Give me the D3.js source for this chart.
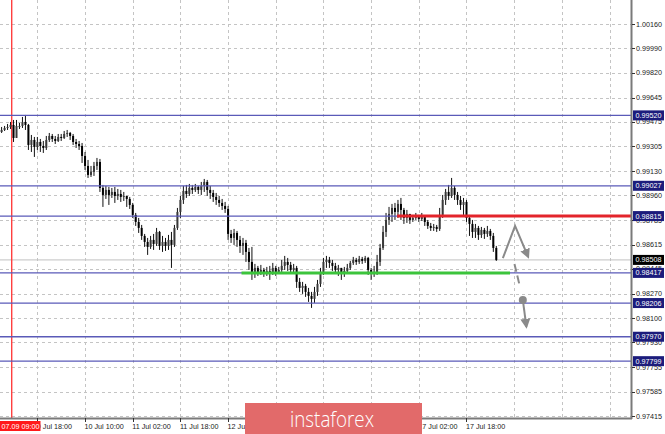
<!DOCTYPE html>
<html><head><meta charset="utf-8">
<script src="https://cdn.jsdelivr.net/npm/d3@7"></script>
<style>body{margin:0;background:#fff}svg{display:block}text{font-family:"Liberation Sans",Arial,sans-serif}</style>
</head><body><svg id="c" width="665" height="434"></svg>
<script>
// ---- data (H1 candles, bar index 0 = 9 Jul 06:00) ----
const yTickValues=[1.00160,0.99990,0.99820,0.99645,0.99475,0.99305,0.99130,0.98960,0.98785,0.98615,0.98445,0.98270,0.98100,0.97930,0.97755,0.97585,0.97415];
const timeTickBars=[12,28,44,60,76,92,108,124,140,156];
const timeTickLabels=["9 Jul 18:00","10 Jul 10:00","11 Jul 02:00","11 Jul 18:00","12 Jul 10:00","","","","17 Jul 02:00","17 Jul 18:00"];
const gridBars=[12,28,44,60,76,92,108,124,140,156,172,188,204];
const levelPrices=[0.99520,0.99027,0.98815,0.98417,0.98206,0.97970,0.97799];
const currentPrice=0.98508;
const markerBar=3, markerLabel="07.09 09:00";
const resistance={price:0.98815,fromBar:132.7};
const support={price:0.98417,fromBar:80.5,toBar:170.6};
const zigzag=[[168.2,0.98520],[172.3,0.98746],[176.7,0.98529]];
const dashSeg=[[172.1,0.98480],[173.7,0.98340]];
const dropArrow=[[174.9,0.98228],[176.1,0.98040]];
const open=[0.99404,0.99418,0.99432,0.99439,0.99453,0.99362,0.99446,0.99446,0.99474,0.99453,0.99313,0.99348,0.99299,0.99334,0.99306,0.99292,0.99348,0.99376,0.99355,0.99341,0.99369,0.99362,0.99390,0.99397,0.99376,0.99334,0.99320,0.99306,0.99236,0.99166,0.99103,0.99124,0.99166,0.99194,0.99012,0.98963,0.98998,0.98963,0.98984,0.98956,0.98970,0.98949,0.98956,0.98935,0.98893,0.98823,0.98774,0.98732,0.98676,0.98634,0.98599,0.98648,0.98620,0.98704,0.98606,0.98634,0.98606,0.98648,0.98613,0.98732,0.98844,0.98928,0.98991,0.98970,0.99012,0.98998,0.99019,0.98998,0.99026,0.99054,0.98998,0.98977,0.98949,0.98928,0.98907,0.98886,0.98865,0.98690,0.98662,0.98697,0.98648,0.98606,0.98627,0.98564,0.98494,0.98424,0.98452,0.98424,0.98438,0.98410,0.98431,0.98417,0.98452,0.98424,0.98438,0.98466,0.98494,0.98473,0.98438,0.98452,0.98354,0.98312,0.98326,0.98284,0.98256,0.98235,0.98284,0.98340,0.98424,0.98494,0.98508,0.98487,0.98466,0.98438,0.98452,0.98417,0.98431,0.98452,0.98487,0.98508,0.98494,0.98515,0.98501,0.98522,0.98438,0.98410,0.98424,0.98494,0.98592,0.98704,0.98788,0.98830,0.98872,0.98844,0.98900,0.98858,0.98802,0.98830,0.98788,0.98802,0.98816,0.98795,0.98809,0.98774,0.98746,0.98732,0.98739,0.98725,0.98823,0.98928,0.98984,0.98956,0.99012,0.98963,0.98928,0.98893,0.98914,0.98802,0.98760,0.98704,0.98732,0.98683,0.98718,0.98690,0.98711,0.98676,0.98592];
const close=[0.99418,0.99432,0.99439,0.99453,0.99362,0.99446,0.99446,0.99474,0.99453,0.99313,0.99348,0.99299,0.99334,0.99306,0.99292,0.99348,0.99376,0.99355,0.99341,0.99369,0.99362,0.99390,0.99397,0.99376,0.99334,0.99320,0.99306,0.99236,0.99166,0.99103,0.99124,0.99166,0.99194,0.99012,0.98963,0.98998,0.98963,0.98984,0.98956,0.98970,0.98949,0.98956,0.98935,0.98893,0.98823,0.98774,0.98732,0.98676,0.98634,0.98599,0.98648,0.98620,0.98704,0.98606,0.98634,0.98606,0.98648,0.98613,0.98732,0.98844,0.98928,0.98991,0.98970,0.99012,0.98998,0.99019,0.98998,0.99026,0.99054,0.98998,0.98977,0.98949,0.98928,0.98907,0.98886,0.98865,0.98690,0.98662,0.98697,0.98648,0.98606,0.98627,0.98564,0.98494,0.98424,0.98452,0.98424,0.98438,0.98410,0.98431,0.98417,0.98452,0.98424,0.98438,0.98466,0.98494,0.98473,0.98438,0.98452,0.98354,0.98312,0.98326,0.98284,0.98256,0.98235,0.98284,0.98340,0.98424,0.98494,0.98508,0.98487,0.98466,0.98438,0.98452,0.98417,0.98431,0.98452,0.98487,0.98508,0.98494,0.98515,0.98501,0.98522,0.98438,0.98410,0.98424,0.98494,0.98592,0.98704,0.98788,0.98830,0.98872,0.98844,0.98900,0.98858,0.98802,0.98830,0.98788,0.98802,0.98816,0.98795,0.98809,0.98774,0.98746,0.98732,0.98739,0.98725,0.98823,0.98928,0.98984,0.98956,0.99012,0.98963,0.98928,0.98893,0.98914,0.98802,0.98760,0.98704,0.98732,0.98683,0.98718,0.98690,0.98711,0.98676,0.98592,0.98508];
const high=[0.99439,0.99446,0.99460,0.99474,0.99488,0.99488,0.99467,0.99509,0.99523,0.99460,0.99383,0.99369,0.99369,0.99355,0.99341,0.99376,0.99397,0.99390,0.99376,0.99390,0.99390,0.99411,0.99418,0.99404,0.99390,0.99355,0.99341,0.99327,0.99264,0.99208,0.99166,0.99194,0.99222,0.99215,0.99033,0.99026,0.99019,0.99012,0.99019,0.99005,0.98998,0.98984,0.98956,0.98949,0.98907,0.98837,0.98802,0.98753,0.98690,0.98662,0.98676,0.98690,0.98732,0.98711,0.98676,0.98662,0.98683,0.98704,0.98753,0.98872,0.98956,0.99026,0.99033,0.99040,0.99033,0.99040,0.99026,0.99054,0.99075,0.99068,0.99026,0.98998,0.98977,0.98956,0.98935,0.98914,0.98886,0.98718,0.98725,0.98711,0.98676,0.98662,0.98648,0.98592,0.98599,0.98480,0.98466,0.98473,0.98452,0.98459,0.98466,0.98487,0.98466,0.98459,0.98508,0.98536,0.98522,0.98494,0.98480,0.98466,0.98382,0.98354,0.98340,0.98312,0.98284,0.98319,0.98368,0.98452,0.98522,0.98536,0.98529,0.98508,0.98487,0.98473,0.98452,0.98459,0.98480,0.98501,0.98529,0.98522,0.98536,0.98529,0.98536,0.98529,0.98452,0.98466,0.98543,0.98620,0.98746,0.98837,0.98879,0.98900,0.98907,0.98928,0.98942,0.98872,0.98858,0.98830,0.98823,0.98837,0.98823,0.98837,0.98816,0.98788,0.98767,0.98760,0.98753,0.98872,0.98963,0.99005,0.99033,0.99082,0.99026,0.98984,0.98956,0.98942,0.98928,0.98823,0.98788,0.98760,0.98746,0.98739,0.98732,0.98746,0.98725,0.98697,0.98606];
const low=[0.99397,0.99411,0.99418,0.99425,0.99334,0.99362,0.99425,0.99432,0.99418,0.99278,0.99264,0.99229,0.99278,0.99264,0.99257,0.99278,0.99334,0.99334,0.99320,0.99334,0.99341,0.99355,0.99369,0.99348,0.99313,0.99292,0.99278,0.99187,0.99138,0.99082,0.99089,0.99096,0.99138,0.98984,0.98879,0.98935,0.98893,0.98942,0.98907,0.98928,0.98914,0.98921,0.98879,0.98865,0.98802,0.98746,0.98697,0.98648,0.98599,0.98543,0.98585,0.98578,0.98606,0.98578,0.98564,0.98571,0.98578,0.98452,0.98599,0.98718,0.98802,0.98900,0.98942,0.98956,0.98970,0.98984,0.98970,0.98963,0.98984,0.98956,0.98935,0.98914,0.98893,0.98879,0.98858,0.98837,0.98648,0.98627,0.98613,0.98599,0.98557,0.98543,0.98494,0.98438,0.98368,0.98382,0.98396,0.98403,0.98389,0.98396,0.98368,0.98403,0.98396,0.98410,0.98424,0.98438,0.98431,0.98410,0.98417,0.98312,0.98284,0.98270,0.98249,0.98214,0.98172,0.98207,0.98256,0.98319,0.98403,0.98452,0.98452,0.98431,0.98410,0.98396,0.98368,0.98389,0.98417,0.98438,0.98473,0.98473,0.98480,0.98480,0.98487,0.98403,0.98368,0.98389,0.98403,0.98466,0.98578,0.98669,0.98753,0.98774,0.98788,0.98802,0.98788,0.98760,0.98767,0.98760,0.98774,0.98788,0.98774,0.98781,0.98746,0.98725,0.98711,0.98711,0.98704,0.98711,0.98802,0.98893,0.98928,0.98942,0.98928,0.98893,0.98858,0.98823,0.98774,0.98676,0.98662,0.98662,0.98648,0.98662,0.98655,0.98669,0.98648,0.98564,0.98501];

// ---- layout ----
const plotR=631,plotB=418;
const svg=d3.select("#c");
const x=d3.scaleLinear().domain([0,166]).range([1.6,496.3]);
const y=d3.scaleLinear().domain([0.97415,1.00160]).range([416,24]);
const fmt=d3.format(".5f");
const candles=close.map((c,i)=>({i,o:open[i],c,h:Math.max(high[i],open[i],c),l:Math.min(low[i],open[i],c)}));

// grid
const g=svg.append("g");
g.selectAll(".hg").data(yTickValues).join("line")
 .attr("x1",0).attr("x2",plotR).attr("y1",d=>Math.round(y(d))+0.5).attr("y2",d=>Math.round(y(d))+0.5)
 .attr("stroke","#c4c4c4").attr("stroke-dasharray","3,3");
g.selectAll(".vg").data(gridBars).join("line")
 .attr("y1",0).attr("y2",plotB).attr("x1",d=>Math.round(x(d))+0.5).attr("x2",d=>Math.round(x(d))+0.5)
 .attr("stroke","#c4c4c4").attr("stroke-dasharray","3,3");

// current price line
svg.append("line").attr("x1",0).attr("x2",plotR).attr("y1",y(currentPrice)).attr("y2",y(currentPrice))
 .attr("stroke","#c0c0c0").attr("stroke-width",1);

// vertical marker
svg.append("rect").attr("x",Math.round(x(markerBar))).attr("width",1.4)
 .attr("y",0).attr("height",plotB).attr("fill","#ff4040");

// candles
const cg=svg.append("g");
cg.selectAll("line").data(candles).join("line")
 .attr("x1",d=>x(d.i)).attr("x2",d=>x(d.i)).attr("y1",d=>y(d.h)).attr("y2",d=>y(d.l))
 .attr("stroke","#111").attr("stroke-width",1);
cg.selectAll("rect").data(candles).join("rect")
 .attr("x",d=>x(d.i)-1).attr("width",2)
 .attr("y",d=>y(Math.max(d.o,d.c)))
 .attr("height",d=>Math.max(1,Math.abs(y(d.o)-y(d.c))))
 .attr("fill",d=>d.c>=d.o?"#3a3a3a":"#000");

// level lines
svg.selectAll(".lv").data(levelPrices).join("line")
 .attr("x1",0).attr("x2",plotR).attr("y1",d=>y(d)).attr("y2",d=>y(d))
 .attr("stroke","#5a5ab8").attr("stroke-width",1.3);

// support / resistance
svg.append("line").attr("x1",x(resistance.fromBar)).attr("x2",plotR)
 .attr("y1",y(resistance.price)).attr("y2",y(resistance.price))
 .attr("stroke","#e3242b").attr("stroke-width",3);
svg.append("line").attr("x1",x(support.fromBar)).attr("x2",x(support.toBar))
 .attr("y1",y(support.price)).attr("y2",y(support.price))
 .attr("stroke","#3cc43c").attr("stroke-width",3);

// arrows
const defs=svg.append("defs");
defs.append("marker").attr("id","ah").attr("viewBox","0 0 10 10").attr("refX",8).attr("refY",5)
 .attr("markerWidth",10).attr("markerHeight",10).attr("markerUnits","userSpaceOnUse").attr("orient","auto")
 .append("path").attr("d","M0,0 L10,5 L0,10 z").attr("fill","#8a8a8a");
const ln=d3.line().x(d=>x(d[0])).y(d=>y(d[1]));
svg.append("path").attr("d",ln(zigzag)).attr("fill","none").attr("stroke","#8a8a8a").attr("stroke-width",2).attr("marker-end","url(#ah)");
svg.append("path").attr("d",ln(dashSeg)).attr("fill","none").attr("stroke","#8a8a8a").attr("stroke-width",2).attr("stroke-dasharray","8,4");
svg.append("path").attr("d",ln(dropArrow)).attr("fill","none").attr("stroke","#8a8a8a").attr("stroke-width",2).attr("marker-end","url(#ah)");
svg.append("circle").attr("cx",x(dropArrow[0][0])).attr("cy",y(dropArrow[0][1])).attr("r",4).attr("fill","#8a8a8a");

// axes frame
svg.append("line").attr("x1",plotR+0.5).attr("x2",plotR+0.5).attr("y1",0).attr("y2",plotB+1).attr("stroke","#7a7a7a").attr("stroke-width",2);
svg.append("line").attr("x1",0).attr("x2",plotR+1).attr("y1",plotB+0.5).attr("y2",plotB+0.5).attr("stroke","#7a7a7a").attr("stroke-width",2);

// y axis labels
const ya=svg.append("g");
ya.selectAll("line").data(yTickValues).join("line")
 .attr("x1",plotR+1).attr("x2",plotR+4).attr("y1",d=>Math.round(y(d))+0.5).attr("y2",d=>Math.round(y(d))+0.5).attr("stroke","#333");
ya.selectAll("text").data(yTickValues).join("text")
 .attr("x",plotR+5).attr("y",d=>y(d)).attr("dy","0.35em").attr("font-size","7.2px").attr("fill","#222").text(fmt);

// x axis labels
const xa=svg.append("g");
xa.selectAll("line").data(timeTickBars).join("line")
 .attr("x1",d=>Math.round(x(d))+0.5).attr("x2",d=>Math.round(x(d))+0.5).attr("y1",plotB).attr("y2",plotB+4).attr("stroke","#333");
xa.selectAll("text").data(timeTickBars.filter((d,i)=>timeTickLabels[i])).join("text")
 .attr("x",d=>x(d)-0.5).attr("y",428.5).attr("font-size","7.2px").attr("fill","#222")
 .text(d=>timeTickLabels[timeTickBars.indexOf(d)]);

// level boxes
const boxes=levelPrices.map(p=>({p,fill:"#1c1c7c"})).concat([{p:currentPrice,fill:"#000"}]);
const bg=svg.append("g");
bg.selectAll("rect").data(boxes).join("rect")
 .attr("x",plotR+2).attr("y",d=>y(d.p)-5).attr("width",31).attr("height",10).attr("fill",d=>d.fill);
bg.selectAll("text").data(boxes).join("text")
 .attr("x",plotR+4.5).attr("y",d=>y(d.p)).attr("dy","0.35em").attr("font-size","7.2px").attr("fill","#fff").text(d=>fmt(d.p));

// marker time box
svg.append("rect").attr("x",0).attr("y",421).attr("width",40.5).attr("height",10).attr("fill","#ff1a1a");
svg.append("text").attr("x",1.5).attr("y",428.5).attr("font-size","7.2px").attr("fill","#fff").text(markerLabel);

// logo
svg.append("rect").attr("x",245).attr("y",403).attr("width",177).attr("height",31).attr("fill","#e26a6a");
svg.append("text").attr("x",290).attr("y",427).attr("font-size","22px")
 .attr("textLength",84).attr("lengthAdjust","spacingAndGlyphs")
 .style("font-family","'Open Sans',Arial,sans-serif").style("font-weight","300").attr("fill","#fff").text("instaforex");
</script></body></html>
